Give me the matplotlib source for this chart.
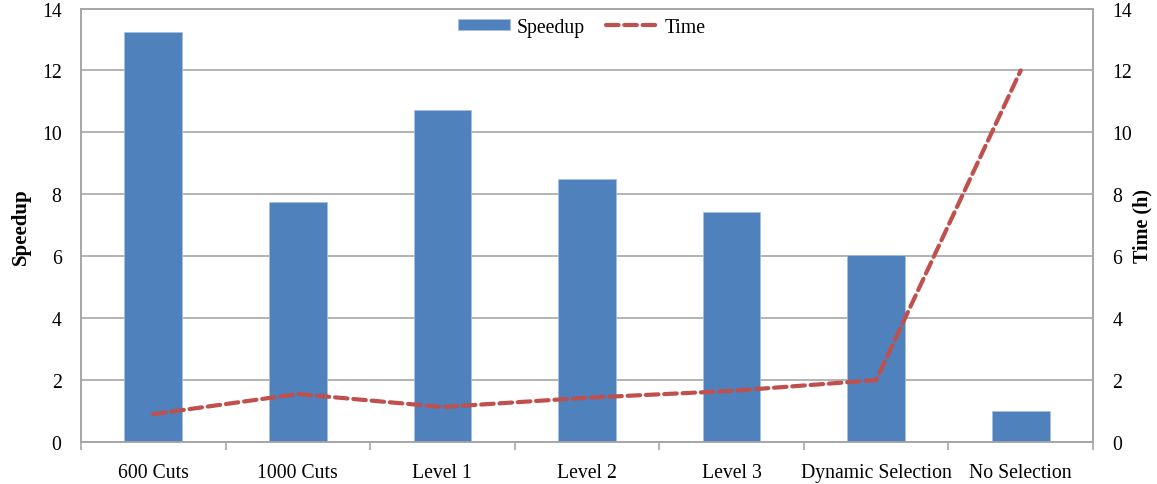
import matplotlib.pyplot as plt
import numpy as np

plt.rcParams['font.family'] = ['Liberation Serif', 'DejaVu Serif']

categories = ['600 Cuts', '1000 Cuts', 'Level 1', 'Level 2', 'Level 3',
              'Dynamic Selection', 'No Selection']
speedup = [13.25, 7.75, 10.72, 8.48, 7.43, 6.05, 1.0]
time_h = [0.9, 1.55, 1.13, 1.43, 1.65, 2.0, 12.0]

blue = '#4F81BD'
red = '#C0504D'
gray = '#A6A6A6'

fig = plt.figure(figsize=(11.57, 4.85), dpi=100)
ax = fig.add_axes([0.070, 0.0866, 0.8747, 0.8938])
ax2 = ax.twinx()

x = np.arange(len(categories))
bars = ax.bar(x, speedup, width=0.4, color=blue, edgecolor='#A7BFDE',
              linewidth=0.6, label='Speedup', zorder=3)
line, = ax2.plot(x, time_h, color=red, lw=3, dashes=(3, 1.4),
                 dash_capstyle='round', solid_joinstyle='round',
                 label='Time', zorder=4)

for a in (ax, ax2):
    a.set_ylim(0, 14)
    a.set_yticks(range(0, 15, 2))
    a.tick_params(axis='y', length=0, labelsize=14.2, pad=14)
    for s in a.spines.values():
        s.set_color(gray)
        s.set_linewidth(1.2)

ax.set_xlim(-0.5, len(categories) - 0.5)
ax.set_xticks(np.arange(-0.5, len(categories), 1.0))
ax.set_xticklabels([])
ax.tick_params(axis='x', which='major', length=6, color=gray, width=1.2)
ax.set_xticks(x, minor=True)
ax.set_xticklabels(categories, minor=True)
ax.tick_params(axis='x', which='minor', length=0, labelsize=14.2, pad=15)

ax.yaxis.grid(True, color=gray, linewidth=1.2, zorder=0)
ax.set_axisbelow(True)
ax.set_zorder(ax2.get_zorder() - 1)
ax.patch.set_visible(True)
ax2.patch.set_visible(False)

ax.set_ylabel('Speedup', fontsize=15, fontweight='bold', labelpad=8)
ax2.set_ylabel('Time (h)', fontsize=14.5, fontweight='bold', labelpad=0)

ax2.legend([bars, line], ['Speedup', 'Time'], loc='upper center',
           bbox_to_anchor=(0.495, 1.02), ncol=2, frameon=False,
           fontsize=14.2, handlelength=2.6, handleheight=0.45,
           columnspacing=1.1, handletextpad=0.35)

fig.savefig('out.png', dpi=100)
